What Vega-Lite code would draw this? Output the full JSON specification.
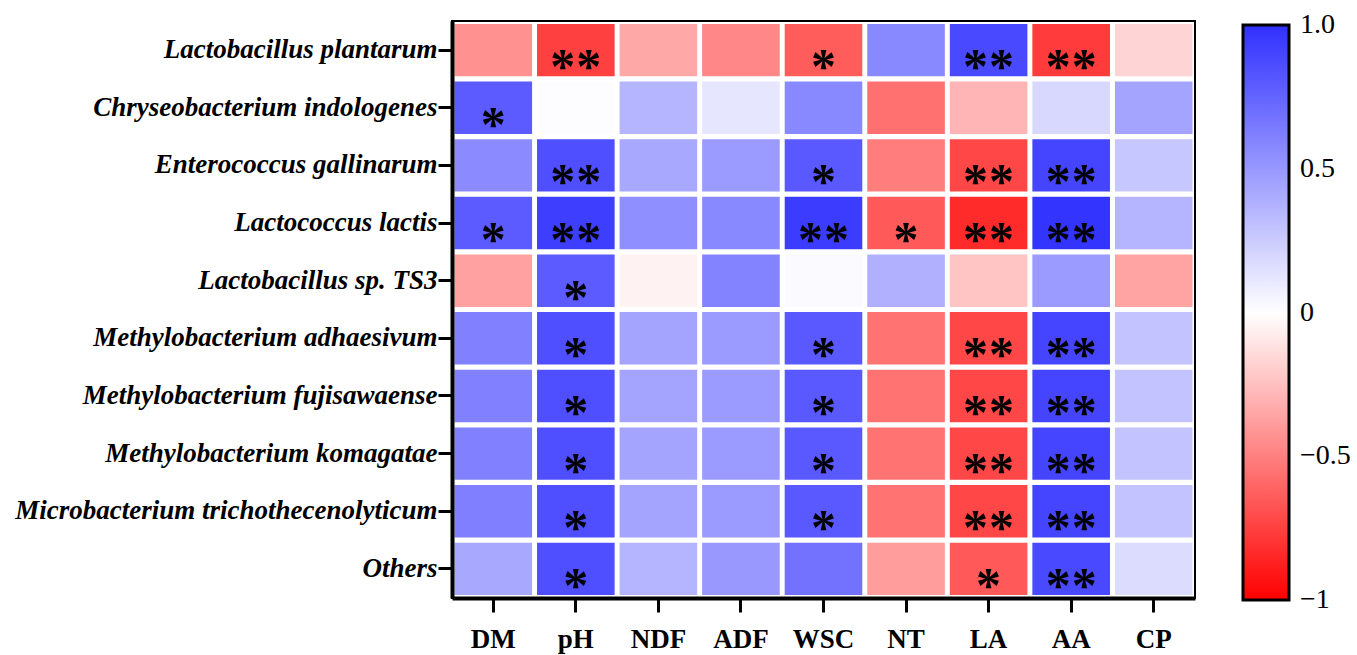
{
  "$schema": "https://vega.github.io/schema/vega-lite/v6.json",
  "width": 743,
  "height": 577,
  "autosize": "none",
  "padding": {"left": 452, "top": 21, "right": 162, "bottom": 57},
  "background": "white",
  "config": {
    "view": {"stroke": "black", "strokeWidth": 2},
    "font": "Liberation Serif",
    "axis": {"domainColor": "black", "domainWidth": 4, "tickColor": "black", "tickWidth": 3, "tickSize": 14, "labelColor": "black", "title": null, "grid": false}
  },
  "data": {"values": [
    {"row": "Lactobacillus plantarum", "col": "DM", "v": -0.43, "sig": ""},
    {"row": "Lactobacillus plantarum", "col": "pH", "v": -0.75, "sig": "**"},
    {"row": "Lactobacillus plantarum", "col": "NDF", "v": -0.34, "sig": ""},
    {"row": "Lactobacillus plantarum", "col": "ADF", "v": -0.47, "sig": ""},
    {"row": "Lactobacillus plantarum", "col": "WSC", "v": -0.64, "sig": "*"},
    {"row": "Lactobacillus plantarum", "col": "NT", "v": 0.57, "sig": ""},
    {"row": "Lactobacillus plantarum", "col": "LA", "v": 0.88, "sig": "**"},
    {"row": "Lactobacillus plantarum", "col": "AA", "v": -0.77, "sig": "**"},
    {"row": "Lactobacillus plantarum", "col": "CP", "v": -0.17, "sig": ""},
    {"row": "Chryseobacterium indologenes", "col": "DM", "v": 0.79, "sig": "*"},
    {"row": "Chryseobacterium indologenes", "col": "pH", "v": 0.01, "sig": ""},
    {"row": "Chryseobacterium indologenes", "col": "NDF", "v": 0.36, "sig": ""},
    {"row": "Chryseobacterium indologenes", "col": "ADF", "v": 0.12, "sig": ""},
    {"row": "Chryseobacterium indologenes", "col": "WSC", "v": 0.57, "sig": ""},
    {"row": "Chryseobacterium indologenes", "col": "NT", "v": -0.56, "sig": ""},
    {"row": "Chryseobacterium indologenes", "col": "LA", "v": -0.29, "sig": ""},
    {"row": "Chryseobacterium indologenes", "col": "AA", "v": 0.19, "sig": ""},
    {"row": "Chryseobacterium indologenes", "col": "CP", "v": 0.44, "sig": ""},
    {"row": "Enterococcus gallinarum", "col": "DM", "v": 0.56, "sig": ""},
    {"row": "Enterococcus gallinarum", "col": "pH", "v": 0.85, "sig": "**"},
    {"row": "Enterococcus gallinarum", "col": "NDF", "v": 0.42, "sig": ""},
    {"row": "Enterococcus gallinarum", "col": "ADF", "v": 0.49, "sig": ""},
    {"row": "Enterococcus gallinarum", "col": "WSC", "v": 0.8, "sig": "*"},
    {"row": "Enterococcus gallinarum", "col": "NT", "v": -0.51, "sig": ""},
    {"row": "Enterococcus gallinarum", "col": "LA", "v": -0.72, "sig": "**"},
    {"row": "Enterococcus gallinarum", "col": "AA", "v": 0.9, "sig": "**"},
    {"row": "Enterococcus gallinarum", "col": "CP", "v": 0.27, "sig": ""},
    {"row": "Lactococcus lactis", "col": "DM", "v": 0.79, "sig": "*"},
    {"row": "Lactococcus lactis", "col": "pH", "v": 0.93, "sig": "**"},
    {"row": "Lactococcus lactis", "col": "NDF", "v": 0.54, "sig": ""},
    {"row": "Lactococcus lactis", "col": "ADF", "v": 0.57, "sig": ""},
    {"row": "Lactococcus lactis", "col": "WSC", "v": 0.94, "sig": "**"},
    {"row": "Lactococcus lactis", "col": "NT", "v": -0.65, "sig": "*"},
    {"row": "Lactococcus lactis", "col": "LA", "v": -0.83, "sig": "**"},
    {"row": "Lactococcus lactis", "col": "AA", "v": 0.98, "sig": "**"},
    {"row": "Lactococcus lactis", "col": "CP", "v": 0.36, "sig": ""},
    {"row": "Lactobacillus sp. TS3", "col": "DM", "v": -0.37, "sig": ""},
    {"row": "Lactobacillus sp. TS3", "col": "pH", "v": 0.79, "sig": "*"},
    {"row": "Lactobacillus sp. TS3", "col": "NDF", "v": -0.05, "sig": ""},
    {"row": "Lactobacillus sp. TS3", "col": "ADF", "v": 0.6, "sig": ""},
    {"row": "Lactobacillus sp. TS3", "col": "WSC", "v": 0.02, "sig": ""},
    {"row": "Lactobacillus sp. TS3", "col": "NT", "v": 0.38, "sig": ""},
    {"row": "Lactobacillus sp. TS3", "col": "LA", "v": -0.23, "sig": ""},
    {"row": "Lactobacillus sp. TS3", "col": "AA", "v": 0.49, "sig": ""},
    {"row": "Lactobacillus sp. TS3", "col": "CP", "v": -0.36, "sig": ""},
    {"row": "Methylobacterium adhaesivum", "col": "DM", "v": 0.61, "sig": ""},
    {"row": "Methylobacterium adhaesivum", "col": "pH", "v": 0.85, "sig": "*"},
    {"row": "Methylobacterium adhaesivum", "col": "NDF", "v": 0.44, "sig": ""},
    {"row": "Methylobacterium adhaesivum", "col": "ADF", "v": 0.49, "sig": ""},
    {"row": "Methylobacterium adhaesivum", "col": "WSC", "v": 0.8, "sig": "*"},
    {"row": "Methylobacterium adhaesivum", "col": "NT", "v": -0.55, "sig": ""},
    {"row": "Methylobacterium adhaesivum", "col": "LA", "v": -0.72, "sig": "**"},
    {"row": "Methylobacterium adhaesivum", "col": "AA", "v": 0.9, "sig": "**"},
    {"row": "Methylobacterium adhaesivum", "col": "CP", "v": 0.29, "sig": ""},
    {"row": "Methylobacterium fujisawaense", "col": "DM", "v": 0.61, "sig": ""},
    {"row": "Methylobacterium fujisawaense", "col": "pH", "v": 0.85, "sig": "*"},
    {"row": "Methylobacterium fujisawaense", "col": "NDF", "v": 0.44, "sig": ""},
    {"row": "Methylobacterium fujisawaense", "col": "ADF", "v": 0.49, "sig": ""},
    {"row": "Methylobacterium fujisawaense", "col": "WSC", "v": 0.8, "sig": "*"},
    {"row": "Methylobacterium fujisawaense", "col": "NT", "v": -0.55, "sig": ""},
    {"row": "Methylobacterium fujisawaense", "col": "LA", "v": -0.72, "sig": "**"},
    {"row": "Methylobacterium fujisawaense", "col": "AA", "v": 0.9, "sig": "**"},
    {"row": "Methylobacterium fujisawaense", "col": "CP", "v": 0.29, "sig": ""},
    {"row": "Methylobacterium komagatae", "col": "DM", "v": 0.61, "sig": ""},
    {"row": "Methylobacterium komagatae", "col": "pH", "v": 0.85, "sig": "*"},
    {"row": "Methylobacterium komagatae", "col": "NDF", "v": 0.44, "sig": ""},
    {"row": "Methylobacterium komagatae", "col": "ADF", "v": 0.49, "sig": ""},
    {"row": "Methylobacterium komagatae", "col": "WSC", "v": 0.8, "sig": "*"},
    {"row": "Methylobacterium komagatae", "col": "NT", "v": -0.55, "sig": ""},
    {"row": "Methylobacterium komagatae", "col": "LA", "v": -0.72, "sig": "**"},
    {"row": "Methylobacterium komagatae", "col": "AA", "v": 0.9, "sig": "**"},
    {"row": "Methylobacterium komagatae", "col": "CP", "v": 0.29, "sig": ""},
    {"row": "Microbacterium trichothecenolyticum", "col": "DM", "v": 0.62, "sig": ""},
    {"row": "Microbacterium trichothecenolyticum", "col": "pH", "v": 0.85, "sig": "*"},
    {"row": "Microbacterium trichothecenolyticum", "col": "NDF", "v": 0.44, "sig": ""},
    {"row": "Microbacterium trichothecenolyticum", "col": "ADF", "v": 0.49, "sig": ""},
    {"row": "Microbacterium trichothecenolyticum", "col": "WSC", "v": 0.8, "sig": "*"},
    {"row": "Microbacterium trichothecenolyticum", "col": "NT", "v": -0.55, "sig": ""},
    {"row": "Microbacterium trichothecenolyticum", "col": "LA", "v": -0.72, "sig": "**"},
    {"row": "Microbacterium trichothecenolyticum", "col": "AA", "v": 0.9, "sig": "**"},
    {"row": "Microbacterium trichothecenolyticum", "col": "CP", "v": 0.29, "sig": ""},
    {"row": "Others", "col": "DM", "v": 0.42, "sig": ""},
    {"row": "Others", "col": "pH", "v": 0.85, "sig": "*"},
    {"row": "Others", "col": "NDF", "v": 0.36, "sig": ""},
    {"row": "Others", "col": "ADF", "v": 0.5, "sig": ""},
    {"row": "Others", "col": "WSC", "v": 0.68, "sig": ""},
    {"row": "Others", "col": "NT", "v": -0.39, "sig": ""},
    {"row": "Others", "col": "LA", "v": -0.65, "sig": "*"},
    {"row": "Others", "col": "AA", "v": 0.88, "sig": "**"},
    {"row": "Others", "col": "CP", "v": 0.17, "sig": ""}
  ]},
  "encoding": {
    "x": {"field": "col", "type": "nominal", "sort": ["DM", "pH", "NDF", "ADF", "WSC", "NT", "LA", "AA", "CP"],
      "scale": {"paddingInner": 0.06, "paddingOuter": 0.03},
      "axis": {"labelAngle": 0, "labelFont": "Liberation Serif", "labelFontWeight": "bold", "labelFontSize": 27, "labelPadding": 14, "orient": "bottom"}},
    "y": {"field": "row", "type": "nominal", "sort": ["Lactobacillus plantarum", "Chryseobacterium indologenes", "Enterococcus gallinarum", "Lactococcus lactis", "Lactobacillus sp. TS3", "Methylobacterium adhaesivum", "Methylobacterium fujisawaense", "Methylobacterium komagatae", "Microbacterium trichothecenolyticum", "Others"],
      "scale": {"paddingInner": 0.09, "paddingOuter": 0.05},
      "axis": {"labelFont": "Liberation Serif", "labelFontWeight": "bold", "labelFontStyle": "italic", "labelFontSize": 27, "labelPadding": 1, "labelLimit": 500}}
  },
  "layer": [
    {
      "mark": {"type": "rect"},
      "encoding": {
        "color": {"field": "v", "type": "quantitative",
          "scale": {"domain": [-1, 0, 1], "range": ["#ff0000", "#ffffff", "#3030ff"], "interpolate": "rgb"},
          "legend": {"orient": "none", "legendX": 791, "legendY": 4, "title": null, "direction": "vertical",
            "gradientLength": 575, "gradientThickness": 46, "gradientStrokeColor": "black", "gradientStrokeWidth": 3,
            "values": [-1, -0.5, 0, 0.5, 1], "labelFont": "Liberation Serif", "labelFontSize": 28, "labelColor": "black",
            "labelBaseline": "middle", "labelOffset": 11, "labelOverlap": false, "padding": 0,
            "labelExpr": "datum.value == 1 ? '1.0' : datum.value == -1 ? '\u22121' : datum.value == -0.5 ? '\u22120.5' : datum.value == 0 ? '0' : datum.label",
            "encode": {"labels": {"update": {"baseline": {"value": "middle"}}}}}
        }
      }
    },
    {
      "transform": [{"filter": "datum.sig == '*'"}],
      "mark": {"type": "text", "font": "Liberation Serif", "fontSize": 50, "fontWeight": "bold", "baseline": "alphabetic", "dy": 33, "color": "black"},
      "encoding": {"text": {"value": "*"}}
    },
    {
      "transform": [{"filter": "datum.sig == '**'"}],
      "mark": {"type": "text", "font": "Liberation Serif", "fontSize": 50, "fontWeight": "bold", "baseline": "alphabetic", "dy": 33, "dx": -13, "color": "black"},
      "encoding": {"text": {"value": "*"}}
    },
    {
      "transform": [{"filter": "datum.sig == '**'"}],
      "mark": {"type": "text", "font": "Liberation Serif", "fontSize": 50, "fontWeight": "bold", "baseline": "alphabetic", "dy": 33, "dx": 13, "color": "black"},
      "encoding": {"text": {"value": "*"}}
    }
  ]
}
